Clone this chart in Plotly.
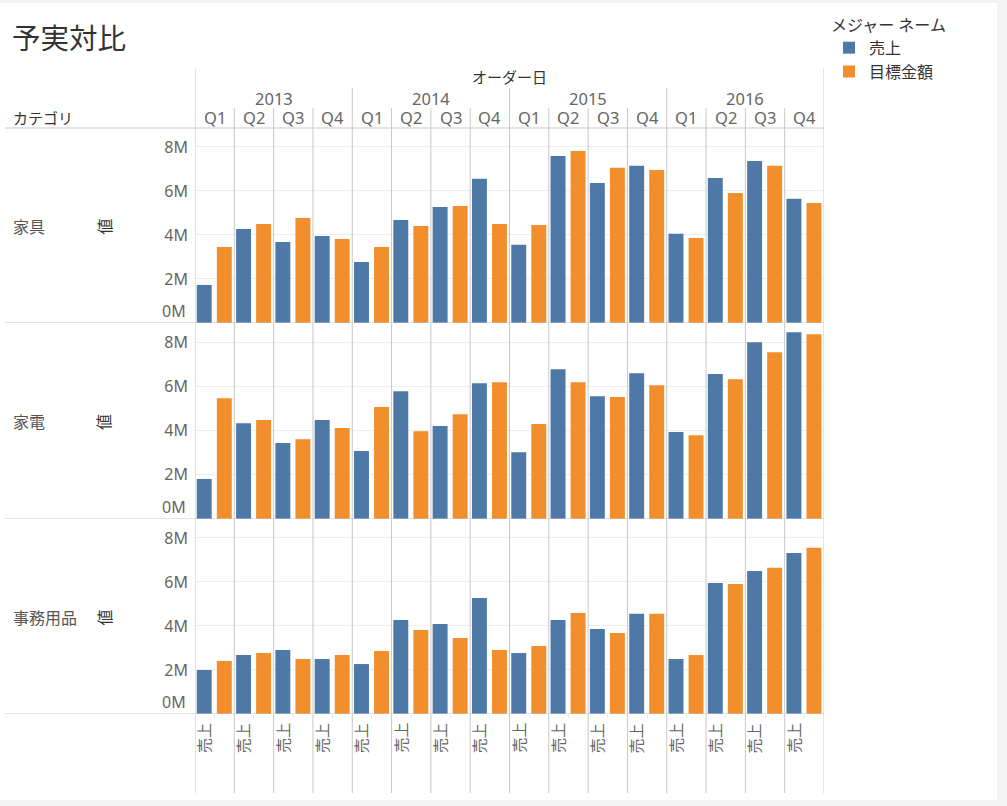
import plotly.graph_objects as go

W, H = 1007, 806

years = ["2013", "2014", "2015", "2016"]
quarter_labels = ["Q1", "Q2", "Q3", "Q4"]
categories = ["家具", "家電", "事務用品"]
measures = ["売上", "目標金額"]
colors = {"売上": "#4e79a7", "目標金額": "#f28e2b"}

# values in millions, 2013Q1 .. 2016Q4
sales_furniture = [1.73, 4.27, 3.68, 3.95, 2.77, 4.68, 5.27, 6.55, 3.55, 7.59, 6.36, 7.14, 4.05, 6.59, 7.36, 5.64]
target_furniture = [3.45, 4.50, 4.77, 3.82, 3.45, 4.41, 5.32, 4.50, 4.45, 7.82, 7.05, 6.95, 3.86, 5.91, 7.14, 5.45]
sales_appliances = [1.81, 4.33, 3.43, 4.47, 3.07, 5.78, 4.20, 6.14, 3.02, 6.77, 5.55, 6.59, 3.93, 6.55, 7.99, 8.44]
target_appliances = [5.46, 4.47, 3.61, 4.11, 5.06, 3.97, 4.74, 6.18, 4.29, 6.18, 5.51, 6.05, 3.79, 6.32, 7.54, 8.35]
sales_office = [2.00, 2.68, 2.91, 2.50, 2.27, 4.27, 4.09, 5.27, 2.77, 4.27, 3.86, 4.55, 2.50, 5.95, 6.50, 7.32]
target_office = [2.41, 2.77, 2.50, 2.68, 2.86, 3.82, 3.45, 2.91, 3.09, 4.59, 3.68, 4.55, 2.68, 5.91, 6.64, 7.55]

series = [
    (sales_furniture, target_furniture),
    (sales_appliances, target_appliances),
    (sales_office, target_office),
]

ytick_vals = [2e6, 4e6, 6e6, 8e6]
ytick_text = ["2M", "4M", "6M", "8M"]

FONT = "Noto Sans, Noto Sans CJK JP, sans-serif"
GRID = "#c8c8c8"


def px(x):
    return x / W


def py(y):
    return 1 - y / H


n = len(years) * len(quarter_labels)
xs = list(range(n))

# panel pixel bounds (top, bottom)
panels = [(128, 323), (323, 519), (519, 714)]

fig = go.Figure()
for r, (s_vals, t_vals) in enumerate(series):
    yname = "y" if r == 0 else f"y{r + 1}"
    fig.add_trace(go.Bar(
        x=xs, y=[v * 1e6 for v in s_vals], xaxis="x", yaxis=yname,
        name=measures[0], legendgroup=measures[0], showlegend=(r == 0),
        marker=dict(color=colors[measures[0]], line=dict(width=0)),
        offset=-0.455, width=0.38,
    ))
    fig.add_trace(go.Bar(
        x=xs, y=[v * 1e6 for v in t_vals], xaxis="x", yaxis=yname,
        name=measures[1], legendgroup=measures[1], showlegend=(r == 0),
        marker=dict(color=colors[measures[1]], line=dict(width=0)),
        offset=0.055, width=0.38,
    ))

layout = dict(
    width=W, height=H,
    margin=dict(l=0, r=0, t=0, b=0),
    paper_bgcolor="#f3f3f3",
    plot_bgcolor="rgba(0,0,0,0)",
    barmode="overlay",
    font=dict(family=FONT, color="#555"),
    xaxis=dict(domain=[px(195), px(824)], range=[-0.5, n - 0.5], anchor="y3",
               showgrid=False, zeroline=False, showline=False,
               tickvals=xs, ticktext=[""] * n, ticks="outside", ticklen=3,
               tickcolor="#e6e6e6", fixedrange=True),
    legend=dict(
        title=dict(text="メジャー ネーム", font=dict(size=16, color="#333", family=FONT)),
        x=px(829), y=py(10), xanchor="left", yanchor="top",
        font=dict(size=16, color="#333", family=FONT),
        bgcolor="rgba(0,0,0,0)", itemwidth=30, tracegroupgap=0,
    ),
)
for r, (top, bot) in enumerate(panels):
    key = "yaxis" if r == 0 else f"yaxis{r + 1}"
    layout[key] = dict(
        domain=[py(bot), py(top)], range=[0, 8.86e6], anchor="x",
        tickvals=ytick_vals, ticktext=ytick_text, showgrid=True,
        gridcolor="#efefef", gridwidth=1, zeroline=False, showline=False,
        ticks="", ticklabelstandoff=6,
        tickfont=dict(size=16, color="#666", family=FONT), fixedrange=True,
    )
fig.update_layout(**layout)

shapes = []
# white page area
shapes.append(dict(type="rect", xref="paper", yref="paper", x0=0, x1=px(997),
                   y0=py(800), y1=py(3), fillcolor="white", line=dict(width=0), layer="below"))
# column separators
for k in range(n + 1):
    if k in (0, n):
        top = 68
    elif k % 4 == 0:
        top = 88
    else:
        top = 108
    shapes.append(dict(type="line", xref="x", yref="paper", x0=k - 0.5, x1=k - 0.5,
                       y0=py(top), y1=py(793), line=dict(color=GRID, width=1), layer="above"))
# header bottom line
shapes.append(dict(type="line", xref="paper", yref="paper", x0=px(5), x1=px(824),
                   y0=py(128), y1=py(128), line=dict(color=GRID, width=1), layer="above"))
# panel baselines
for r in range(3):
    yref = "y" if r == 0 else f"y{r + 1}"
    shapes.append(dict(type="line", xref="paper", yref=yref, x0=px(5), x1=px(824),
                       y0=0, y1=0, line=dict(color=GRID, width=1), layer="above"))
fig.update_layout(shapes=shapes)

ann = []
ann.append(dict(text="予実対比", xref="paper", yref="paper", x=px(10), y=py(38),
                xanchor="left", yanchor="middle", showarrow=False,
                font=dict(size=28.5, color="#333", family=FONT)))
ann.append(dict(text="オーダー日", xref="x", yref="paper", x=(n - 1) / 2, y=py(77),
                xanchor="center", yanchor="middle", showarrow=False,
                font=dict(size=15, color="#333", family=FONT)))
ann.append(dict(text="カテゴリ", xref="paper", yref="paper", x=px(11), y=py(118),
                xanchor="left", yanchor="middle", showarrow=False,
                font=dict(size=15, color="#333", family=FONT)))
for i, yr in enumerate(years):
    ann.append(dict(text=yr, xref="x", yref="paper", x=i * 4 + 1.5, y=py(98),
                    xanchor="center", yanchor="middle", showarrow=False,
                    font=dict(size=16.5, color="#666", family=FONT)))
for k in range(n):
    ann.append(dict(text=quarter_labels[k % 4], xref="x", yref="paper", x=k, y=py(118),
                    xanchor="center", yanchor="middle", showarrow=False,
                    font=dict(size=16.5, color="#666", family=FONT)))
    ann.append(dict(text=measures[0], xref="x", yref="paper", x=k - 0.27, y=py(738),
                    xanchor="center", yanchor="middle", showarrow=False, textangle=-90,
                    font=dict(size=15, color="#666", family=FONT)))
for r, (top, bot) in enumerate(panels):
    mid = (top + bot) / 2 + 1
    yref = "y" if r == 0 else f"y{r + 1}"
    ann.append(dict(text=categories[r], xref="paper", yref="paper", x=px(11), y=py(mid),
                    xanchor="left", yanchor="middle", showarrow=False,
                    font=dict(size=16, color="#555", family=FONT)))
    ann.append(dict(text="値", xref="paper", yref="paper", x=px(104), y=py(mid),
                    xanchor="center", yanchor="middle", showarrow=False, textangle=-90,
                    font=dict(size=16, color="#333", family=FONT)))
    ann.append(dict(text="0M", xref="paper", yref=yref, x=px(188), y=0, yshift=12,
                    xanchor="right", yanchor="middle", showarrow=False,
                    font=dict(size=16, color="#666", family=FONT)))
fig.update_layout(annotations=ann)

fig.write_html(
    "out.html",
    config={"displayModeBar": False},
    post_script="document.body.style.margin='0';document.body.style.overflow='hidden';",
)
